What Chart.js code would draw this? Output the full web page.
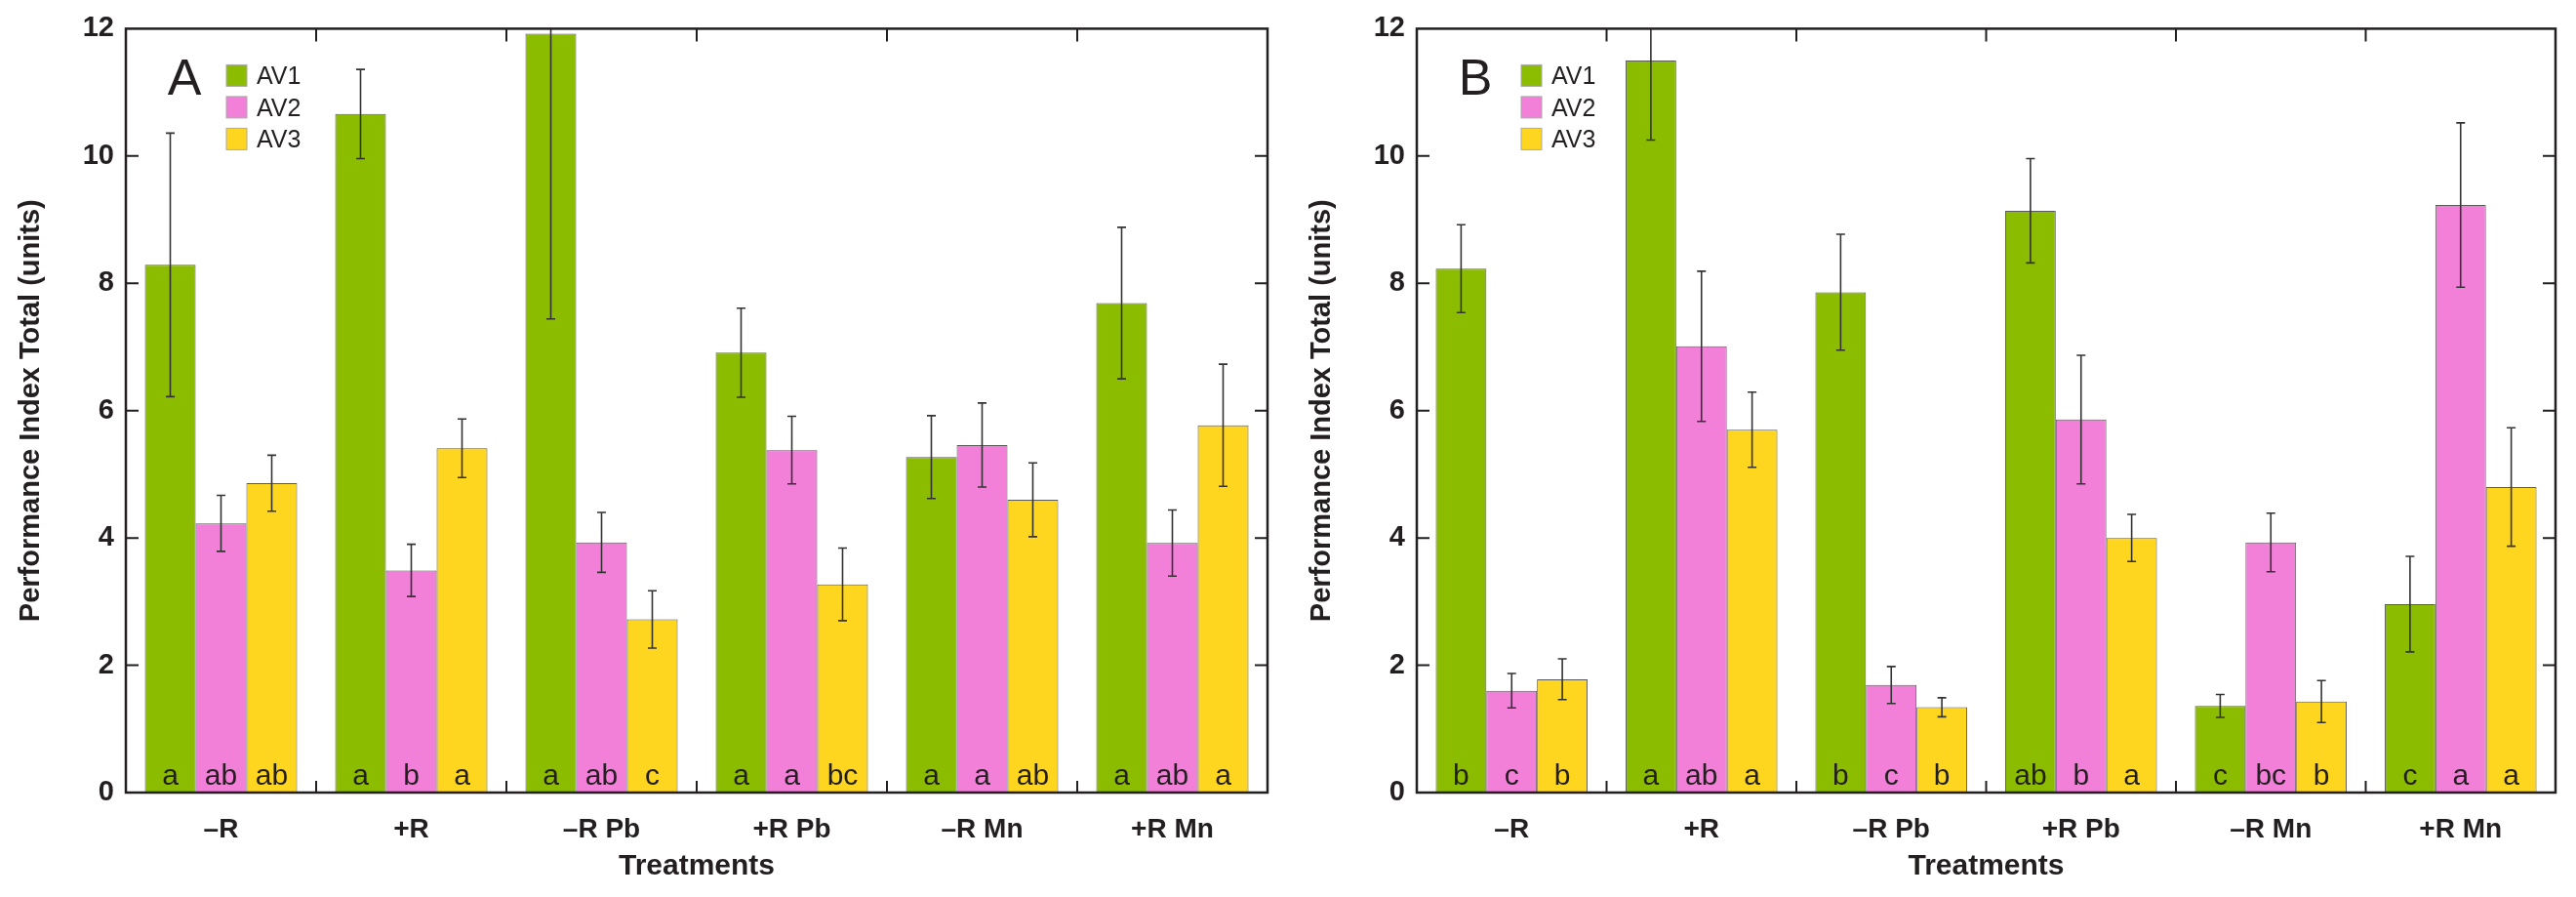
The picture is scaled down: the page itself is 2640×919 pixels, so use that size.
<!DOCTYPE html>
<html>
<head>
<meta charset="utf-8">
<script src="https://cdn.jsdelivr.net/npm/chart.js@4.4.1/dist/chart.umd.min.js"></script>
<style>
  html, body { margin: 0; padding: 0; background: #fff; }
  #wrap { position: relative; width: 2640px; height: 919px; overflow: hidden; }
  .panel { position: absolute; top: 0; width: 1320px; height: 919px; }
</style>
</head>
<body>
<div id="wrap">
  <div class="panel" style="left:0"><canvas id="chartA" width="1320" height="919"></canvas></div>
  <div class="panel" style="left:1320px"><canvas id="chartB" width="1320" height="919"></canvas></div>
</div>
<script>
const treatments = ["\u2013R", "+R", "\u2013R Pb", "+R Pb", "\u2013R Mn", "+R Mn"];
const seriesNames = ["AV1", "AV2", "AV3"];
const yTicks = [0, 2, 4, 6, 8, 10, 12];

// Panel A
const av1A = [8.29, 10.66, 11.92, 6.91, 5.27, 7.69];
const av2A = [4.23, 3.49, 3.93, 5.38, 5.46, 3.92];
const av3A = [4.86, 5.41, 2.72, 3.27, 4.60, 5.77];
const errA1 = [2.07, 0.70, 4.48, 0.70, 0.65, 1.19];
const errA2 = [0.44, 0.41, 0.47, 0.53, 0.66, 0.52];
const errA3 = [0.44, 0.46, 0.45, 0.57, 0.58, 0.96];
const letA1 = ["a", "a", "a", "a", "a", "a"];
const letA2 = ["ab", "b", "ab", "a", "a", "ab"];
const letA3 = ["ab", "a", "c", "bc", "ab", "a"];

// Panel B
const av1B = [8.23, 11.50, 7.86, 9.14, 1.36, 2.96];
const av2B = [1.60, 7.01, 1.69, 5.86, 3.93, 9.23];
const av3B = [1.78, 5.70, 1.34, 4.00, 1.43, 4.80];
const errB1 = [0.69, 1.25, 0.91, 0.82, 0.18, 0.75];
const errB2 = [0.27, 1.18, 0.29, 1.01, 0.46, 1.29];
const errB3 = [0.32, 0.59, 0.15, 0.37, 0.33, 0.93];
const letB1 = ["b", "a", "b", "ab", "c", "c"];
const letB2 = ["c", "ab", "c", "b", "bc", "a"];
const letB3 = ["b", "a", "b", "a", "b", "a"];

const colors = ["#8bbc00", "#f27fd8", "#ffd61f"];
const ink = "#231f20";
const helv = "'Liberation Sans', Arial, sans-serif";
const narrow = "'Liberation Sans Narrow', 'Liberation Sans', Arial, sans-serif";

const decorPlugin = {
  id: "decor",
  afterDatasetsDraw(chart, args, opts) {
    const { ctx, chartArea: a, scales } = chart;
    const y = scales.y;
    const x = scales.x;

    // error bars + letters
    ctx.save();
    ctx.beginPath();
    ctx.rect(a.left, a.top, a.right - a.left, a.bottom - a.top);
    ctx.clip();
    chart.data.datasets.forEach((ds, i) => {
      const meta = chart.getDatasetMeta(i);
      meta.data.forEach((bar, j) => {
        const v = ds.data[j];
        const e = opts.errors[i][j];
        const yHi = y.getPixelForValue(v + e);
        const yLo = y.getPixelForValue(v - e);
        ctx.strokeStyle = "#333";
        ctx.lineWidth = 1.6;
        ctx.beginPath();
        ctx.moveTo(bar.x, yHi);
        ctx.lineTo(bar.x, yLo);
        ctx.moveTo(bar.x - 4.5, yHi);
        ctx.lineTo(bar.x + 4.5, yHi);
        ctx.moveTo(bar.x - 4.5, yLo);
        ctx.lineTo(bar.x + 4.5, yLo);
        ctx.stroke();

        ctx.fillStyle = ink;
        ctx.font = "30px " + opts.letterFont;
        ctx.textAlign = "center";
        ctx.textBaseline = "alphabetic";
        ctx.fillText(opts.letters[i][j], bar.x, a.bottom - 8);
      });
    });
    ctx.restore();

    // frame and inward ticks
    ctx.save();
    ctx.strokeStyle = ink;
    ctx.lineWidth = 2.5;
    ctx.strokeRect(a.left, a.top, a.right - a.left, a.bottom - a.top);
    ctx.lineWidth = 2;
    ctx.beginPath();
    yTicks.slice(1, -1).forEach(t => {
      const py = y.getPixelForValue(t);
      ctx.moveTo(a.left, py);
      ctx.lineTo(a.left + 13, py);
      ctx.moveTo(a.right, py);
      ctx.lineTo(a.right - 13, py);
    });
    for (let k = 0; k < treatments.length - 1; k++) {
      const px = (x.getPixelForValue(k) + x.getPixelForValue(k + 1)) / 2;
      ctx.moveTo(px, a.top);
      ctx.lineTo(px, a.top + 13);
      ctx.moveTo(px, a.bottom);
      ctx.lineTo(px, a.bottom - 12);
    }
    ctx.stroke();

    // panel letter
    ctx.fillStyle = ink;
    ctx.font = "52px " + helv;
    ctx.textAlign = "center";
    ctx.textBaseline = "alphabetic";
    ctx.fillText(opts.label, a.left + 60, a.top + 68);

    // legend
    ctx.font = "25px " + opts.letterFont;
    ctx.textAlign = "left";
    chart.data.datasets.forEach((ds, i) => {
      const top = a.top + 37 + i * 32.5;
      ctx.fillStyle = ds.backgroundColor;
      ctx.fillRect(a.left + opts.legendX, top, 21, 22);
      ctx.strokeStyle = "#aaa";
      ctx.lineWidth = 1;
      ctx.strokeRect(a.left + opts.legendX, top, 21, 22);
      ctx.fillStyle = ink;
      ctx.fillText(ds.label, a.left + opts.legendX + 31, top + 20);
    });
    ctx.restore();
  }
};

const makeChart = (canvasId, values, opts) => {
  const datasets = values.map((vals, i) => ({
    label: seriesNames[i],
    data: vals,
    backgroundColor: colors[i],
    borderColor: "#5a5a5a",
    borderWidth: 1,
    borderSkipped: "bottom",
    categoryPercentage: 0.8,
    barPercentage: 1.0
  }));

  return new Chart(document.getElementById(canvasId).getContext("2d"), {
    type: "bar",
    data: { labels: treatments, datasets },
    options: {
      responsive: false,
      animation: false,
      devicePixelRatio: 1,
      layout: { padding: { top: 26, right: 21, left: 0, bottom: 0 } },
      plugins: {
        legend: { display: false },
        tooltip: { enabled: false },
        decor: opts
      },
      scales: {
        x: {
          grid: { display: false, drawTicks: false },
          border: { display: false },
          ticks: { color: ink, font: { family: helv, size: 28, weight: "bold" }, padding: 21, maxRotation: 0 },
          title: {
            display: true,
            text: "Treatments",
            color: ink,
            font: { family: helv, size: 30, weight: "bold" },
            padding: { top: 0, bottom: 13 }
          },
          afterFit: s => { s.height = 107; }
        },
        y: {
          min: 0,
          max: 12,
          grid: { display: false, drawTicks: false },
          border: { display: false },
          afterBuildTicks: s => { s.ticks = yTicks.map(v => ({ value: v })); },
          ticks: { color: ink, font: { family: helv, size: 29, weight: "bold" }, padding: 12 },
          title: {
            display: true,
            text: "Performance Index Total (units)",
            color: ink,
            font: { family: helv, size: 29, weight: "bold" },
            padding: { top: opts.titlePad, bottom: 0 }
          },
          afterFit: s => { s.width = opts.yWidth; }
        }
      }
    },
    plugins: [decorPlugin]
  });
};

makeChart("chartA", [av1A, av2A, av3A], {
  label: "A",
  errors: [errA1, errA2, errA3],
  letters: [letA1, letA2, letA3],
  letterFont: narrow,
  legendX: 103,
  yWidth: 129,
  titlePad: 15
});

makeChart("chartB", [av1B, av2B, av3B], {
  label: "B",
  errors: [errB1, errB2, errB3],
  letters: [letB1, letB2, letB3],
  letterFont: helv,
  legendX: 107,
  yWidth: 132,
  titlePad: 18
});
</script>
</body>
</html>
